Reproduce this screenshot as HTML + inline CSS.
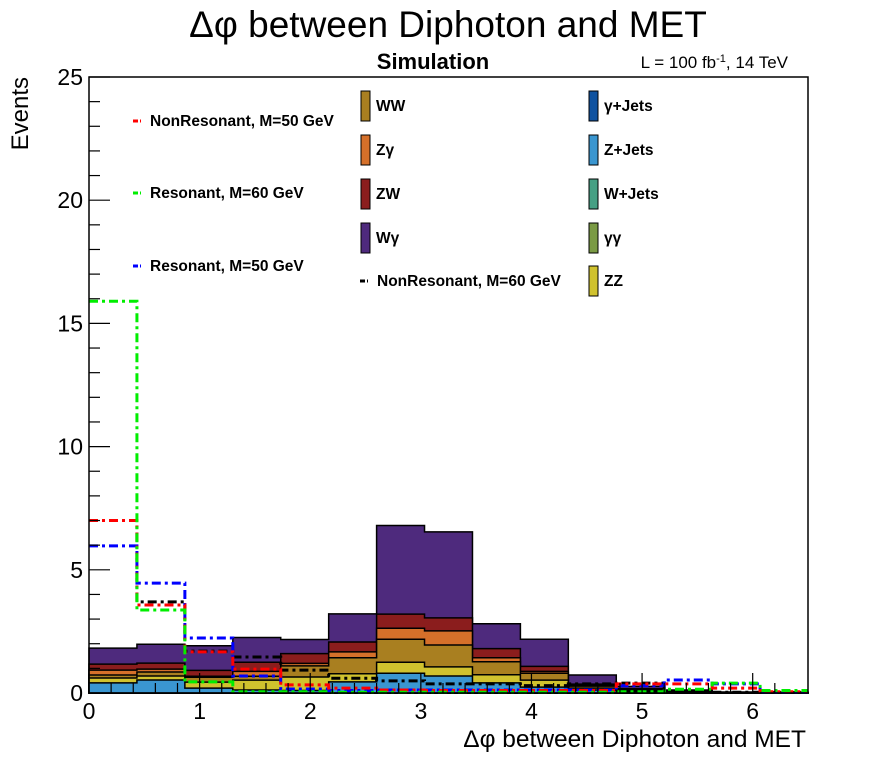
<!DOCTYPE html>
<html><head><meta charset="utf-8"><style>
html,body{margin:0;padding:0;background:#fff;}
svg{display:block;font-family:"Liberation Sans",sans-serif;}
</style></head><body>
<svg id="chart" width="896" height="772" viewBox="0 0 896 772">
<text x="448" y="37" font-size="37" text-anchor="middle">Δφ between Diphoton and MET</text>
<text x="433" y="69" font-size="22" font-weight="bold" text-anchor="middle">Simulation</text>
<text x="788" y="68" font-size="17" text-anchor="end">L = 100 fb<tspan dy="-6" font-size="11">-1</tspan><tspan dy="6">, 14 TeV</tspan></text>
<g id="stack"></g>
<g id="lines"></g>
<rect x="89" y="77" width="719" height="616" fill="none" stroke="#000" stroke-width="1.5"/>
<g id="axes"></g>
<text x="806" y="747" font-size="24.5" text-anchor="end">Δφ between Diphoton and MET</text>
<text transform="translate(28,77) rotate(-90)" font-size="24" text-anchor="end">Events</text>
<g id="legend"></g>
</svg>
<script>
const binEdges = [0,0.4333,0.8667,1.3,1.7333,2.1667,2.6,3.0333,3.4667,3.9,4.3333,4.7667,5.2,5.6333,6.0667,6.5];
const zJets = [0.41,0.53,0.2,0.12,0.1,0.45,0.8,0.69,0.41,0.24,0.12,0.05,0.03,0.01,0.01];
const zz    = [0.2,0.16,0.24,0.4,0.55,0.33,0.45,0.37,0.33,0.28,0.08,0.03,0.02,0.01,0.01];
const ww    = [0.12,0.16,0.2,0.16,0.45,0.65,0.93,0.89,0.53,0.28,0.08,0.04,0.02,0.01,0.0];
const zGamma= [0.2,0.12,0.04,0.2,0.1,0.24,0.45,0.57,0.16,0.08,0.04,0.02,0.01,0.0,0.0];
const zw    = [0.24,0.24,0.24,0.37,0.4,0.4,0.57,0.53,0.37,0.2,0.04,0.03,0.01,0.0,0.0];
const wGamma= [0.65,0.77,1.0,1.0,0.57,1.14,3.6,3.49,1.01,1.1,0.37,0.1,0.03,0.01,0.01];
const nonRes50 = [7.0,3.57,1.67,0.97,0.33,0.2,0.12,0.1,0.1,0.1,0.1,0.37,0.37,0.2,0.05];
const nonRes60 = [7.0,3.7,1.7,1.46,0.93,0.6,0.49,0.37,0.37,0.3,0.37,0.4,0.05,0.03,0.02];
const res50 = [5.97,4.46,2.23,0.69,0.16,0.1,0.12,0.12,0.12,0.12,0.12,0.3,0.53,0.37,0.03];
const res60 = [15.9,3.37,0.45,0.05,0.05,0.03,0.03,0.03,0.03,0.03,0.03,0.05,0.15,0.4,0.1];
const xTicks = [0,1,2,3,4,5,6];
const yTicks = [0,5,10,15,20,25];

const NS="http://www.w3.org/2000/svg";
const X0=89,X1=808,Y0=693,Y1=77,XMAX=6.5,YMAX=25;
const xs=v=>X0+(X1-X0)*v/XMAX;
const ys=v=>Y0-(Y0-Y1)*v/YMAX;
function mk(tag,attrs,parent){const e=document.createElementNS(NS,tag);for(const k in attrs)e.setAttribute(k,attrs[k]);parent.appendChild(e);return e;}

const layers=[[zJets,'#3a96d0','z-jets'],[zz,'#d0c22e','zz'],[ww,'#a97f20','ww'],[zGamma,'#d5702a','z-gamma'],[zw,'#8b1d1d','zw'],[wGamma,'#4e2a7d','w-gamma']];
const cum=new Array(binEdges.length-1).fill(0);
const stack=document.getElementById('stack');
const layerPaths=[];
layers.forEach(([vals,col,name])=>{
  const top=cum.map((c,i)=>c+vals[i]);
  let d='M'+xs(binEdges[0])+','+ys(0);
  for(let i=0;i<top.length;i++){d+=' L'+xs(binEdges[i])+','+ys(top[i])+' L'+xs(binEdges[i+1])+','+ys(top[i]);}
  d+=' L'+xs(binEdges[binEdges.length-1])+','+ys(0)+' Z';
  layerPaths.push([d,col,name]);
  for(let i=0;i<cum.length;i++)cum[i]=top[i];
});
for(let k=layerPaths.length-1;k>=0;k--){
  const [d,col,name]=layerPaths[k];
  const p=mk('path',{d:d,fill:col,stroke:'#000','stroke-width':1.5},stack);
  
  
}
const lg=document.getElementById('lines');
[[nonRes60,'#000','nonresonant-m60'],[res50,'#0000ff','resonant-m50'],[nonRes50,'#ff0000','nonresonant-m50'],[res60,'#00ee00','resonant-m60']].forEach(([vals,col,name])=>{
  let d='M'+xs(binEdges[0])+','+ys(vals[0]);
  for(let i=0;i<vals.length;i++){d+=' L'+xs(binEdges[i])+','+ys(vals[i])+' L'+xs(binEdges[i+1])+','+ys(vals[i]);}
  const p=mk('path',{d:d,fill:'none',stroke:col,'stroke-width':3,'stroke-dasharray':'9,4,3,4'},lg);
  
  
});
const ax=document.getElementById('axes');
for(let v=0;v<=6.4;v+=0.2){const x=xs(v);const major=Math.abs(v-Math.round(v))<1e-6;
  mk('line',{x1:x,x2:x,y1:Y0,y2:Y0-(major?20:10),stroke:'#000','stroke-width':1.2},ax);}
for(let v=0;v<=25;v+=1){const y=ys(v);const major=v%5===0;
  mk('line',{x1:X0,x2:X0+(major?21:11),y1:y,y2:y,stroke:'#000','stroke-width':1.2},ax);}
xTicks.forEach(v=>{const t=mk('text',{x:xs(v),y:Y0+26,'font-size':23,'text-anchor':'middle'},ax);t.textContent=v;
  
  });
yTicks.forEach(v=>{const t=mk('text',{x:X0-6,y:ys(v)+8,'font-size':23,'text-anchor':'end'},ax);t.textContent=v;
  
  });
const L=document.getElementById('legend');
function lineEntry(x,y,col,label){
  const g=mk('g',{},L);
  
  
  mk('line',{x1:x,x2:x+5,y1:y,y2:y,stroke:col,'stroke-width':3},g);
  mk('line',{x1:x+7,x2:x+8,y1:y,y2:y,stroke:col,'stroke-width':3},g);
  const t=mk('text',{x:x+17,y:y+5,'font-size':15.5,'font-weight':'bold'},g);t.textContent=label;
}
function boxEntry(x,y,col,label){
  const g=mk('g',{},L);
  
  
  mk('rect',{x:x,y:y-15,width:9,height:30,fill:col,stroke:'#000','stroke-width':1},g);
  const t=mk('text',{x:x+15,y:y+5,'font-size':15.5,'font-weight':'bold'},g);t.textContent=label;
}
lineEntry(133,121,'#ff0000','NonResonant, M=50 GeV');
lineEntry(133,193,'#00ee00','Resonant, M=60 GeV');
lineEntry(133,266,'#0000ff','Resonant, M=50 GeV');
boxEntry(361,106,'#a97f20','WW');
boxEntry(361,150,'#d5702a','Zγ');
boxEntry(361,194,'#8b1d1d','ZW');
boxEntry(361,238,'#4e2a7d','Wγ');
lineEntry(360,281,'#000','NonResonant, M=60 GeV');
boxEntry(589,106,'#0f52a0','γ+Jets');
boxEntry(589,150,'#3a96d0','Z+Jets');
boxEntry(589,194,'#46a084','W+Jets');
boxEntry(589,238,'#7a9a44','γγ');
boxEntry(589,281,'#d0c22e','ZZ');
</script>
</body></html>
